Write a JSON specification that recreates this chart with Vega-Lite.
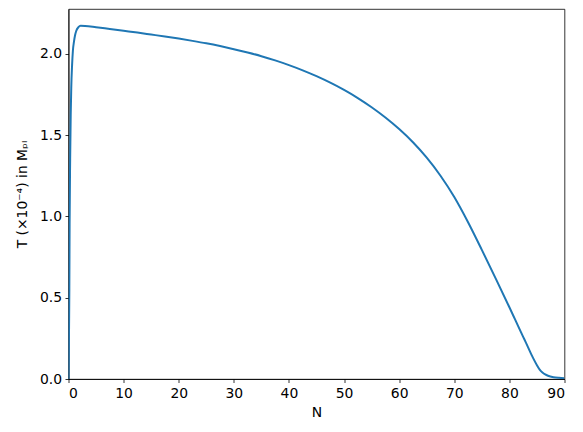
{
  "$schema": "https://vega.github.io/schema/vega-lite/v6.json",
  "width": 496,
  "height": 370,
  "autosize": {"type": "none"},
  "padding": {"left": 68.5, "top": 9, "right": 18.5, "bottom": 53},
  "background": "white",
  "config": {
    "view": {"stroke": "black", "strokeWidth": 0.8},
    "font": "DejaVu Sans",
    "axis": {
      "grid": false,
      "domainColor": "black",
      "domainWidth": 0.8,
      "tickColor": "black",
      "tickWidth": 0.8,
      "tickSize": 3.5,
      "labelPadding": 3.5,
      "labelFont": "DejaVu Sans",
      "labelFontSize": 13.9,
      "labelColor": "black",
      "titleFont": "DejaVu Sans",
      "titleFontSize": 13.9,
      "titleFontWeight": "normal",
      "titleColor": "black"
    }
  },
  "data": {
    "values": [
      {"N": 0, "T": 0},
      {"N": 0.05, "T": 0.12},
      {"N": 0.1, "T": 0.32},
      {"N": 0.15, "T": 0.55},
      {"N": 0.2, "T": 0.95},
      {"N": 0.3, "T": 1.35},
      {"N": 0.4, "T": 1.62},
      {"N": 0.5, "T": 1.79},
      {"N": 0.65, "T": 1.93},
      {"N": 0.8, "T": 2.02},
      {"N": 1.0, "T": 2.076},
      {"N": 1.2, "T": 2.115},
      {"N": 1.4, "T": 2.14},
      {"N": 1.8, "T": 2.163},
      {"N": 2.2, "T": 2.172},
      {"N": 3, "T": 2.171},
      {"N": 5, "T": 2.163},
      {"N": 7.5, "T": 2.152},
      {"N": 10, "T": 2.141},
      {"N": 12.5, "T": 2.13},
      {"N": 15, "T": 2.118},
      {"N": 17.5, "T": 2.106},
      {"N": 20, "T": 2.093},
      {"N": 22.5, "T": 2.079},
      {"N": 25, "T": 2.064},
      {"N": 27.5, "T": 2.047},
      {"N": 30, "T": 2.028},
      {"N": 32.5, "T": 2.0075},
      {"N": 35, "T": 1.985},
      {"N": 37.5, "T": 1.959},
      {"N": 40, "T": 1.93},
      {"N": 42.5, "T": 1.898},
      {"N": 45, "T": 1.862},
      {"N": 47.5, "T": 1.822},
      {"N": 50, "T": 1.7775},
      {"N": 52.5, "T": 1.7275},
      {"N": 55, "T": 1.671},
      {"N": 57.5, "T": 1.608},
      {"N": 60, "T": 1.537},
      {"N": 62.5, "T": 1.456},
      {"N": 65, "T": 1.361},
      {"N": 67.5, "T": 1.25},
      {"N": 70, "T": 1.119},
      {"N": 72.5, "T": 0.964},
      {"N": 75, "T": 0.794},
      {"N": 77.5, "T": 0.619},
      {"N": 80, "T": 0.4415},
      {"N": 82.5, "T": 0.259},
      {"N": 83, "T": 0.224},
      {"N": 84, "T": 0.15},
      {"N": 85, "T": 0.085},
      {"N": 85.5, "T": 0.058},
      {"N": 86, "T": 0.04},
      {"N": 86.5, "T": 0.028},
      {"N": 87, "T": 0.02},
      {"N": 88, "T": 0.011},
      {"N": 89, "T": 0.007},
      {"N": 90, "T": 0.005}
    ]
  },
  "mark": {"type": "line", "color": "#1f77b4", "strokeWidth": 2, "interpolate": "monotone", "clip": true},
  "encoding": {
    "x": {
      "field": "N",
      "type": "quantitative",
      "scale": {"domain": [0, 90], "nice": false, "zero": false},
      "axis": {"values": [0, 10, 20, 30, 40, 50, 60, 70, 80, 90], "title": "N", "titlePadding": 6}
    },
    "y": {
      "field": "T",
      "type": "quantitative",
      "scale": {"domain": [0, 2.275], "nice": false},
      "axis": {"values": [0, 0.5, 1.0, 1.5, 2.0], "format": ".1f", "title": "T  (×10⁻⁴) in Mₚₗ", "titlePadding": 10}
    }
  }
}
